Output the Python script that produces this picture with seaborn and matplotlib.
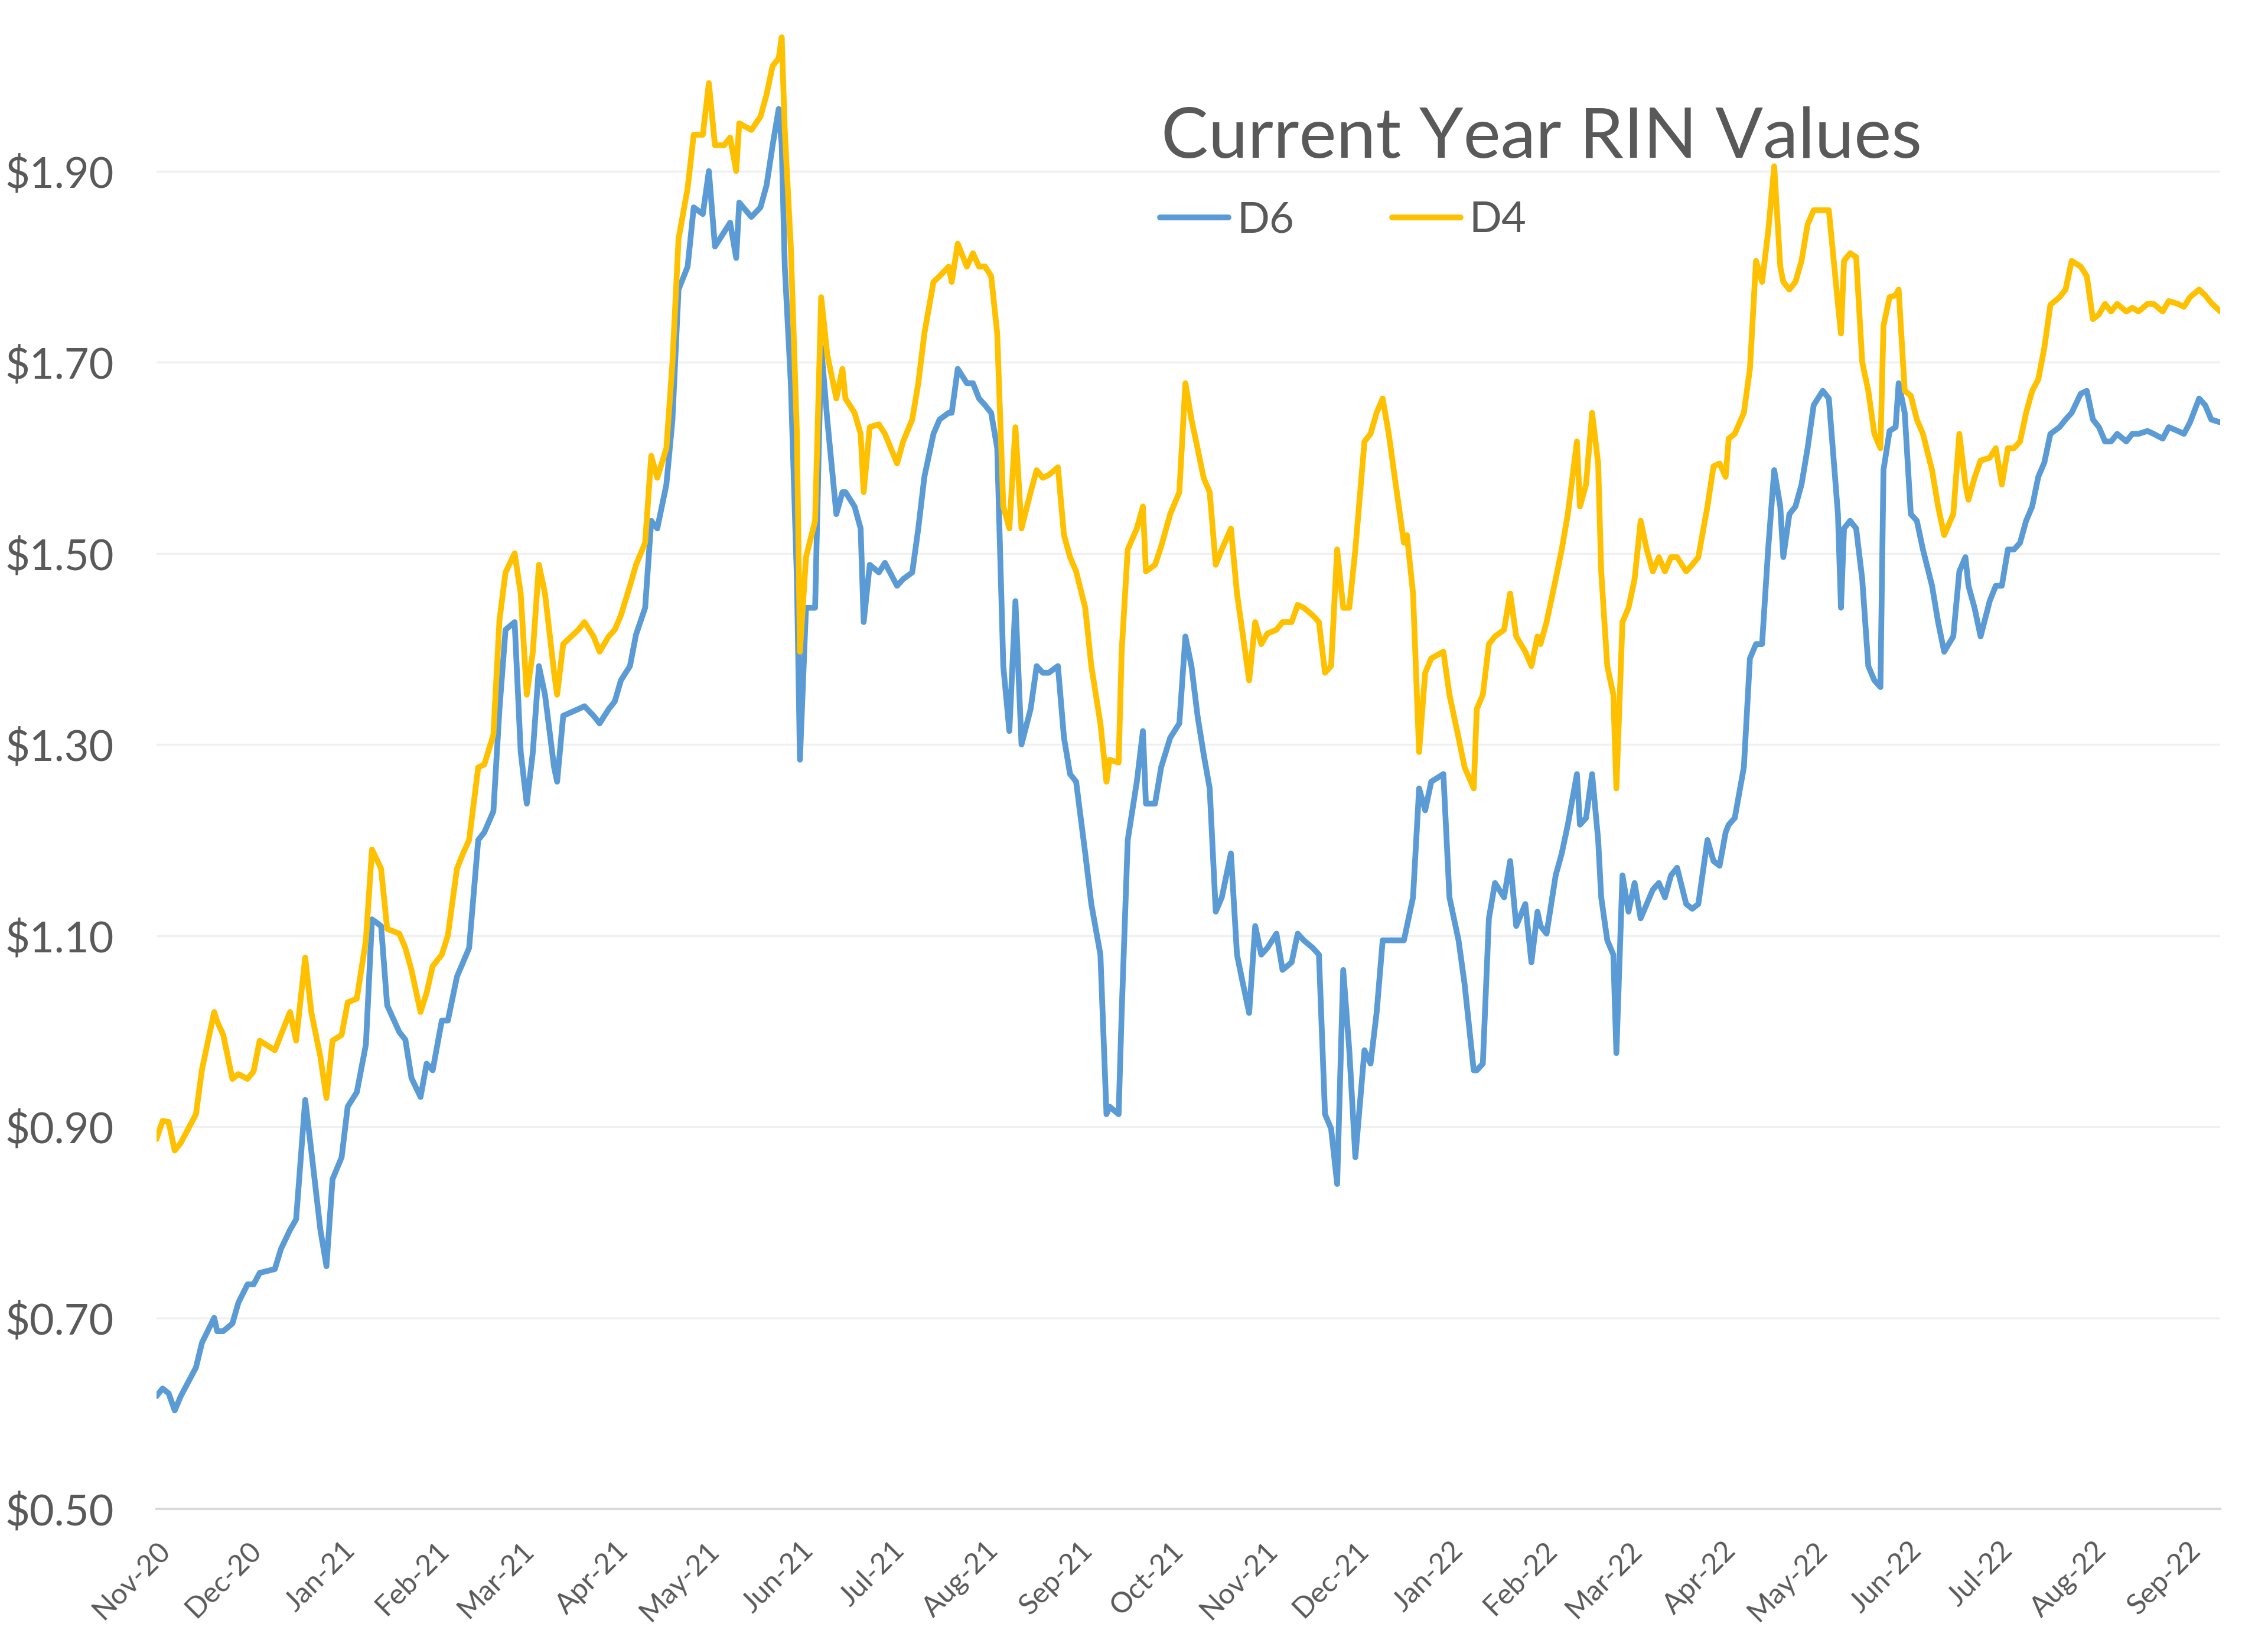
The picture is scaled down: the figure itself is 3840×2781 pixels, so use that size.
import numpy as np
import pandas as pd
import seaborn as sns
import matplotlib.pyplot as plt
import matplotlib.dates as mdates
from matplotlib.ticker import FuncFormatter, FixedLocator

# days since 2020-11-01 of each reading
days = [0, 2, 4, 6, 8, 13, 15, 19, 20, 22, 25, 27, 30, 32, 34, 39, 41, 44, 46, 49,
        51, 54, 56, 58, 61, 63, 66, 69, 71, 74, 76, 80, 82, 84, 87, 89, 91, 94, 96, 99,
        101, 103, 106, 108, 111, 113, 115, 118, 120, 122, 124, 126, 128, 131, 132, 134, 139, 141, 144, 146,
        149, 151, 153, 156, 158, 161, 163, 165, 168, 170, 172, 175, 177, 180, 182, 184, 187, 189, 191, 192,
        196, 199, 201, 203, 205, 206, 207, 209, 211, 212, 214, 217, 219, 221, 224, 226, 227, 230, 232, 233,
        235, 238, 240, 244, 246, 249, 251, 253, 256, 258, 261, 262, 264, 267, 269, 271, 273, 275, 277, 279,
        281, 283, 285, 288, 290, 292, 294, 297, 299, 301, 303, 306, 308, 311, 313, 314, 317, 318, 320, 323,
        325, 326, 329, 331, 334, 337, 339, 341, 343, 345, 347, 349, 351, 354, 356, 358, 360, 362, 364, 366,
        369, 371, 374, 376, 378, 381, 383, 385, 387, 389, 391, 393, 395, 398, 400, 402, 404, 406, 408, 411,
        412, 414, 416, 418, 420, 424, 426, 429, 431, 434, 435, 437, 439, 441, 444, 446, 448, 451, 453, 455,
        456, 458, 461, 463, 465, 468, 469, 471, 473, 475, 476, 478, 480, 481, 483, 485, 487, 489, 491, 493,
        495, 497, 499, 501, 504, 506, 508, 511, 513, 515, 517, 518, 520, 523, 525, 527, 529, 531, 533, 535,
        536, 538, 540, 542, 544, 546, 549, 551, 554, 555, 556, 558, 560, 562, 564, 566, 568, 569, 571, 573,
        574, 576, 578, 580, 582, 585, 587, 589, 592, 594, 596, 597, 599, 601, 604, 606, 608, 610, 612, 614,
        616, 618, 620, 622, 624, 627, 629, 631, 634, 636, 638, 640, 642, 644, 646, 649, 651, 653, 656, 658,
        661, 663, 666, 668, 670, 673, 675, 677, 680]

d6 = [0.618, 0.626, 0.621, 0.603, 0.618, 0.648, 0.674, 0.700, 0.686, 0.686, 0.694, 0.716, 0.735, 0.735, 0.747, 0.751, 0.772, 0.792, 0.803, 0.928,
      0.875, 0.792, 0.754, 0.845, 0.868, 0.921, 0.936, 0.986, 1.117, 1.110, 1.027, 0.999, 0.991, 0.951, 0.931, 0.966, 0.959, 1.011, 1.011, 1.057,
      1.072, 1.087, 1.200, 1.208, 1.230, 1.337, 1.420, 1.428, 1.292, 1.238, 1.292, 1.382, 1.352, 1.276, 1.261, 1.330, 1.337, 1.340, 1.330, 1.322,
      1.337, 1.345, 1.367, 1.382, 1.415, 1.443, 1.534, 1.526, 1.572, 1.640, 1.776, 1.800, 1.862, 1.855, 1.900, 1.821, 1.836, 1.846, 1.809, 1.867,
      1.852, 1.862, 1.885, 1.927, 1.965, 1.927, 1.800, 1.678, 1.473, 1.284, 1.443, 1.443, 1.716, 1.640, 1.541, 1.564, 1.564, 1.549, 1.526, 1.428,
      1.488, 1.480, 1.490, 1.466, 1.473, 1.480, 1.526, 1.580, 1.625, 1.640, 1.647, 1.647, 1.693, 1.678, 1.678, 1.662, 1.655, 1.647, 1.610, 1.382,
      1.314, 1.450, 1.300, 1.337, 1.382, 1.375, 1.375, 1.382, 1.307, 1.269, 1.261, 1.186, 1.133, 1.080, 0.913, 0.921, 0.913, 1.019, 1.200, 1.261,
      1.314, 1.238, 1.238, 1.276, 1.307, 1.322, 1.413, 1.382, 1.330, 1.290, 1.254, 1.125, 1.140, 1.186, 1.080, 1.049, 1.019, 1.110, 1.080, 1.087,
      1.102, 1.064, 1.072, 1.102, 1.095, 1.087, 1.080, 0.913, 0.898, 0.840, 1.064, 0.980, 0.868, 0.980, 0.966, 1.019, 1.095, 1.095, 1.095, 1.095,
      1.110, 1.140, 1.254, 1.231, 1.261, 1.269, 1.140, 1.095, 1.049, 0.959, 0.959, 0.966, 1.118, 1.155, 1.140, 1.178, 1.110, 1.133, 1.072, 1.125,
      1.110, 1.102, 1.163, 1.186, 1.216, 1.269, 1.216, 1.223, 1.269, 1.200, 1.140, 1.095, 1.080, 0.977, 1.163, 1.125, 1.155, 1.118, 1.133, 1.148,
      1.155, 1.140, 1.163, 1.171, 1.133, 1.128, 1.133, 1.200, 1.178, 1.173, 1.208, 1.216, 1.223, 1.276, 1.390, 1.405, 1.405, 1.504, 1.587, 1.549,
      1.496, 1.541, 1.549, 1.572, 1.610, 1.655, 1.670, 1.662, 1.541, 1.443, 1.526, 1.534, 1.526, 1.473, 1.382, 1.367, 1.360, 1.587, 1.628, 1.632,
      1.678, 1.647, 1.541, 1.534, 1.504, 1.466, 1.428, 1.397, 1.413, 1.481, 1.496, 1.466, 1.443, 1.413, 1.450, 1.466, 1.466, 1.504, 1.504, 1.511,
      1.534, 1.549, 1.580, 1.595, 1.625, 1.632, 1.640, 1.647, 1.667, 1.670, 1.640, 1.632, 1.617, 1.617, 1.625, 1.617, 1.625, 1.625, 1.628, 1.625,
      1.620, 1.632, 1.628, 1.625, 1.637, 1.662, 1.655, 1.640, 1.637]

d4 = [0.887, 0.906, 0.905, 0.875, 0.883, 0.913, 0.960, 1.020, 1.010, 0.996, 0.950, 0.955, 0.950, 0.958, 0.990, 0.980, 0.996, 1.020, 0.990, 1.077,
      1.020, 0.973, 0.930, 0.990, 0.996, 1.030, 1.034, 1.095, 1.190, 1.170, 1.107, 1.102, 1.087, 1.064, 1.020, 1.040, 1.068, 1.080, 1.100, 1.170,
      1.186, 1.200, 1.276, 1.279, 1.310, 1.430, 1.480, 1.500, 1.458, 1.352, 1.397, 1.488, 1.458, 1.375, 1.352, 1.405, 1.420, 1.428, 1.413, 1.397,
      1.413, 1.420, 1.435, 1.466, 1.488, 1.511, 1.602, 1.579, 1.610, 1.700, 1.829, 1.882, 1.938, 1.938, 1.992, 1.927, 1.927, 1.935, 1.900, 1.950,
      1.943, 1.957, 1.980, 2.010, 2.018, 2.040, 1.943, 1.820, 1.625, 1.397, 1.496, 1.534, 1.768, 1.708, 1.662, 1.693, 1.662, 1.647, 1.625, 1.564,
      1.632, 1.635, 1.625, 1.594, 1.617, 1.640, 1.678, 1.730, 1.784, 1.790, 1.800, 1.784, 1.824, 1.800, 1.814, 1.800, 1.800, 1.790, 1.730, 1.549,
      1.526, 1.632, 1.526, 1.564, 1.587, 1.579, 1.582, 1.590, 1.519, 1.496, 1.481, 1.443, 1.382, 1.322, 1.261, 1.284, 1.281, 1.397, 1.504, 1.526,
      1.549, 1.481, 1.488, 1.507, 1.541, 1.564, 1.678, 1.640, 1.610, 1.579, 1.564, 1.488, 1.504, 1.526, 1.458, 1.413, 1.367, 1.428, 1.405, 1.416,
      1.420, 1.428, 1.428, 1.446, 1.443, 1.435, 1.428, 1.375, 1.382, 1.504, 1.443, 1.443, 1.504, 1.617, 1.625, 1.647, 1.662, 1.625, 1.579, 1.511,
      1.519, 1.458, 1.292, 1.375, 1.390, 1.397, 1.352, 1.307, 1.276, 1.254, 1.337, 1.352, 1.405, 1.413, 1.420, 1.458, 1.413, 1.397, 1.382, 1.413,
      1.405, 1.428, 1.473, 1.504, 1.541, 1.617, 1.549, 1.572, 1.647, 1.594, 1.481, 1.382, 1.352, 1.254, 1.428, 1.443, 1.473, 1.534, 1.504, 1.481,
      1.496, 1.481, 1.496, 1.496, 1.481, 1.488, 1.496, 1.549, 1.591, 1.594, 1.580, 1.620, 1.625, 1.647, 1.693, 1.806, 1.784, 1.836, 1.905, 1.800,
      1.784, 1.776, 1.784, 1.806, 1.844, 1.859, 1.859, 1.859, 1.761, 1.730, 1.806, 1.814, 1.810, 1.700, 1.670, 1.625, 1.610, 1.738, 1.768, 1.770,
      1.776, 1.670, 1.665, 1.640, 1.625, 1.587, 1.549, 1.519, 1.541, 1.625, 1.572, 1.556, 1.579, 1.597, 1.600, 1.610, 1.572, 1.610, 1.610, 1.617,
      1.647, 1.670, 1.682, 1.715, 1.760, 1.768, 1.776, 1.806, 1.800, 1.790, 1.745, 1.750, 1.761, 1.753, 1.761, 1.753, 1.757, 1.753, 1.761, 1.761,
      1.753, 1.764, 1.761, 1.758, 1.768, 1.776, 1.770, 1.762, 1.753]

yticks = [0.50, 0.70, 0.90, 1.10, 1.30, 1.50, 1.70, 1.90]
series_names = ['D6', 'D4']
series_colors = {'D6': '#5B9BD5', 'D4': '#FFC000'}
title = 'Current Year RIN Values'

start = pd.Timestamp('2020-11-01')
dates = start + pd.to_timedelta(days, unit='D')
df = pd.concat([
    pd.DataFrame({'date': dates, 'value': d6, 'series': 'D6'}),
    pd.DataFrame({'date': dates, 'value': d4, 'series': 'D4'}),
])

sns.set_style('white')
plt.rcParams['font.family'] = ['Lato', 'DejaVu Sans']
grey = '#595959'

fig = plt.figure(figsize=(38.4, 27.81), dpi=100)
ax = fig.add_axes([0.069, 0.0816, 0.91, 0.9184])

sns.lineplot(ax=ax, data=df, x='date', y='value', hue='series', hue_order=series_names,
             palette=series_colors, linewidth=7, legend=False)

ax.set_ylim(0.5, 2.079)
ax.set_xlim(dates[0], dates[-1])
ax.yaxis.set_major_locator(FixedLocator(yticks))
ax.yaxis.set_major_formatter(FuncFormatter(lambda v, p: '${:.2f}'.format(v)))
ax.xaxis.set_major_locator(mdates.MonthLocator())
ax.xaxis.set_major_formatter(mdates.DateFormatter('%b-%y'))
ax.grid(axis='y', color='#F0F0F0', linewidth=2.5)
ax.set_axisbelow(True)
for s in ['top', 'right', 'left']:
    ax.spines[s].set_visible(False)
ax.spines['bottom'].set_color('#D9D9D9')
ax.spines['bottom'].set_linewidth(3)
ax.tick_params(axis='y', length=0, pad=52, labelsize=52, labelcolor=grey)
ax.tick_params(axis='x', length=18, width=2, color='#D9D9D9', direction='out',
               pad=16, labelsize=35, labelcolor=grey)
for lab in ax.get_xticklabels():
    lab.set_rotation(45)
    lab.set_ha('right')
    lab.set_rotation_mode('anchor')
ax.set_xlabel('')
ax.set_ylabel('')

fig.text(0.512, 0.916, title, fontsize=86, color=grey, ha='left', va='center')

handles = [plt.Line2D([], [], color=series_colors[n], linewidth=7) for n in series_names]
leg = fig.legend(handles, series_names, loc='center left', bbox_to_anchor=(0.5115, 0.866),
                 ncol=2, frameon=False, fontsize=52, handlelength=1.6, handletextpad=0.2,
                 columnspacing=2.3, borderaxespad=0, borderpad=0)
for t in leg.get_texts():
    t.set_color(grey)

fig.savefig('out.png', dpi=100, facecolor='white')
